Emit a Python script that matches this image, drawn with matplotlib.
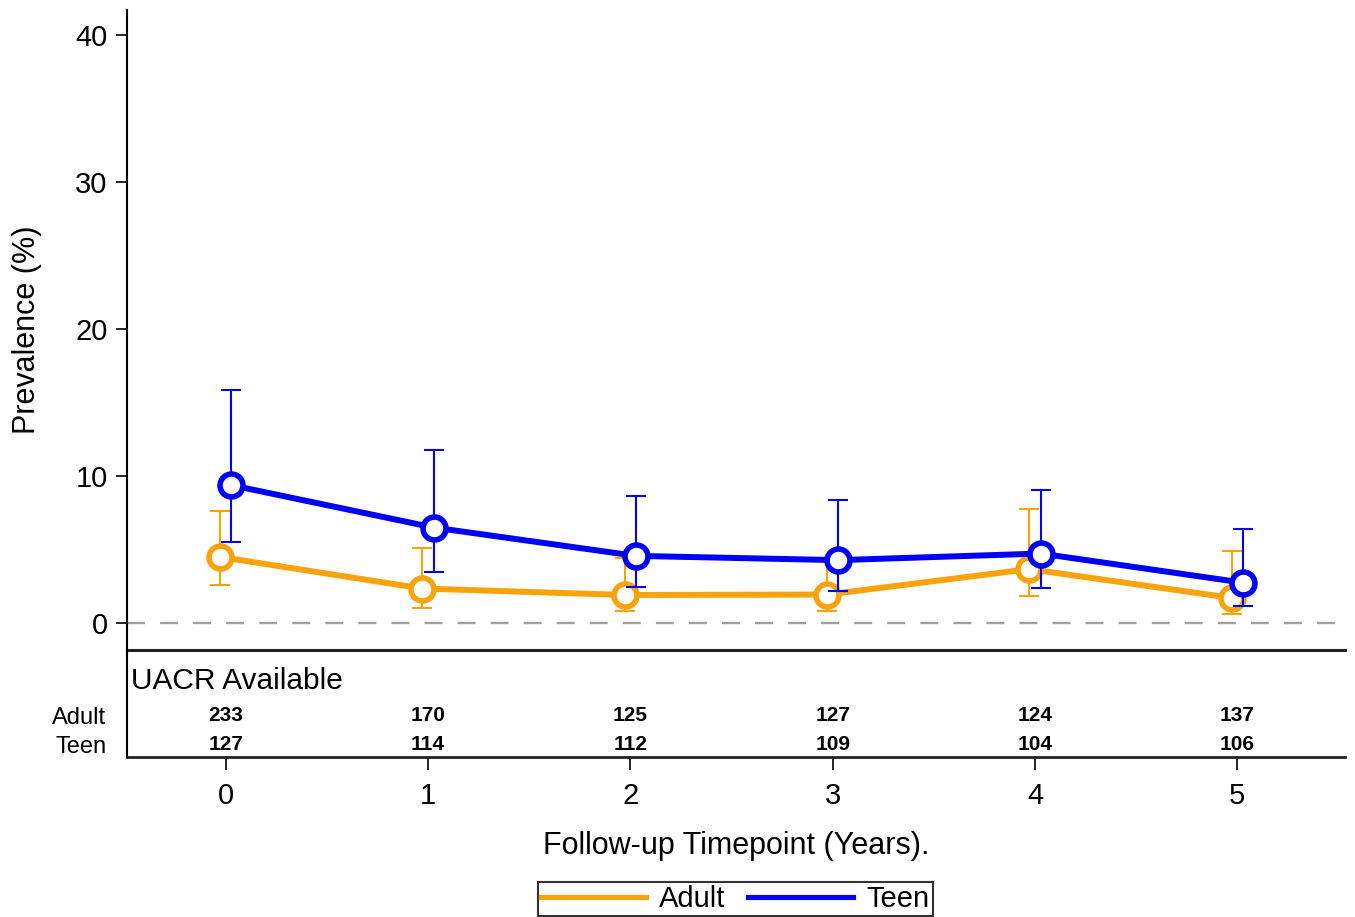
import matplotlib
matplotlib.use('Agg')
import matplotlib.pyplot as plt
from matplotlib.lines import Line2D
import numpy as np

plt.rcParams['font.family'] = ['Liberation Sans', 'DejaVu Sans']

# follow-up timepoints (years)
timepoints = [0, 1, 2, 3, 4, 5]

# prevalence (%) with 95% CI
adult_prev = [4.49, 2.34, 1.90, 1.93, 3.66, 1.70]
adult_lo = [2.56, 1.04, 0.82, 0.80, 1.81, 0.59]
adult_hi = [7.62, 5.10, 4.40, 4.40, 7.73, 4.90]

teen_prev = [9.37, 6.49, 4.56, 4.27, 4.72, 2.74]
teen_lo = [5.49, 3.49, 2.45, 2.20, 2.40, 1.18]
teen_hi = [15.83, 11.79, 8.64, 8.35, 9.07, 6.37]

# UACR available per timepoint
adult_n = [233, 170, 125, 127, 124, 137]
teen_n = [127, 114, 112, 109, 104, 106]

ORANGE = '#F7A30C'
BLUE = '#0000F5'

fig = plt.figure(figsize=(13.55, 9.17), dpi=100)
ax = fig.add_axes([0.0937, 0.2912, 0.899, 0.698])
ax_tab = fig.add_axes([0.0937, 0.1745, 0.899, 0.1167], sharex=ax)
ax_tab.patch.set_visible(False)

x = np.array(timepoints, dtype=float)
off = 0.028

series = [
    ('Adult', adult_prev, adult_lo, adult_hi, ORANGE, -off, 3),
    ('Teen', teen_prev, teen_lo, teen_hi, BLUE, off, 5),
]
for name, prev, lo, hi, col, dx, z in series:
    prev = np.array(prev)
    yerr = [prev - np.array(lo), np.array(hi) - prev]
    ax.errorbar(x + dx, prev, yerr=yerr, fmt='none', ecolor=col,
                elinewidth=1.5, capsize=7.5, capthick=1.5, zorder=z)
    ax.plot(x + dx, prev, color=col, lw=4.3, marker='o', ms=16.5,
            mew=4.0, mfc='white', mec=col, zorder=z + 1)

ax.axhline(0, color='#A0A0A0', lw=1.7, linestyle=(0, (7.6, 6.4)), zorder=1)

ax.set_xlim(-0.488, 5.533)
ax.set_ylim(-1.84, 41.7)
ax.set_yticks([0, 10, 20, 30, 40])
ax.tick_params(axis='y', direction='out', length=8, width=1.2,
               labelsize=21, pad=6)
ax.tick_params(axis='x', bottom=False, labelbottom=False)
ax.set_ylabel('Prevalence (%)', fontsize=22, labelpad=24)
for s in ['top', 'right']:
    ax.spines[s].set_visible(False)
ax.spines['left'].set_linewidth(1.5)
ax.spines['bottom'].set_linewidth(2.2)
ax.spines['bottom'].set_color('#222222')

# table of available counts
ax_tab.set_ylim(0, 1)
for s in ['top', 'right']:
    ax_tab.spines[s].set_visible(False)
ax_tab.spines['left'].set_linewidth(1.5)
ax_tab.spines['bottom'].set_linewidth(2)
ax_tab.spines['bottom'].set_color('#222222')
ax_tab.text(0.003, 0.71, 'UACR Available', transform=ax_tab.transAxes,
            fontsize=21.5, ha='left', va='center')
for xi, a, t in zip(timepoints, adult_n, teen_n):
    ax_tab.text(xi, 0.383, str(a), fontsize=15, fontweight='bold',
                ha='center', va='center')
    ax_tab.text(xi, 0.112, str(t), fontsize=15, fontweight='bold',
                ha='center', va='center')
ax_tab.set_yticks([0.383, 0.112])
ax_tab.set_yticklabels(['Adult', 'Teen'])
ax_tab.tick_params(axis='y', length=0, labelsize=17, pad=15)
ax_tab.set_xticks(timepoints)
ax_tab.tick_params(axis='x', direction='out', length=9, width=1.2,
                   labelsize=21, pad=9)
ax_tab.set_xlabel('Follow-up Timepoint (Years).', fontsize=22, labelpad=15)

handles = [Line2D([], [], color=ORANGE, lw=3.7),
           Line2D([], [], color=BLUE, lw=3.7)]
leg = fig.legend(handles, ['Adult', 'Teen'], loc='center',
                 bbox_to_anchor=(0.5425, 0.0196), ncol=2, fontsize=21,
                 frameon=True, fancybox=False, edgecolor='black',
                 handlelength=3.6, handletextpad=0.45, columnspacing=0.8,
                 borderpad=0.1, borderaxespad=0)
leg.get_frame().set_linewidth(1.5)

plt.savefig('out.png', dpi=100)
plt.close()
